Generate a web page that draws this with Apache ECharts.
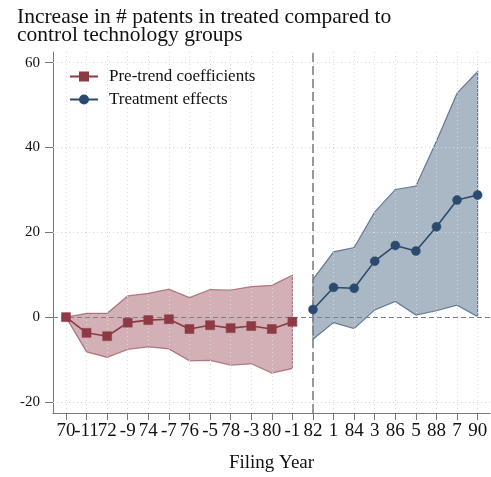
<!DOCTYPE html>
<html><head><meta charset="utf-8">
<script src="https://cdn.jsdelivr.net/npm/echarts@6/dist/echarts.min.js"></script>
<style>html,body{margin:0;padding:0;background:#fff}#c{width:491px;height:477px}</style>
</head><body><div id="c"></div>
<script>
// ---- data ----
const preYears = [1970,1971,1972,1973,1974,1975,1976,1977,1978,1979,1980,1981];
const preCoef  = [0,-3.7,-4.5,-1.3,-0.7,-0.5,-2.8,-1.9,-2.6,-2.1,-2.8,-1.1];
const preLo    = [0,-8.2,-9.5,-7.6,-7.0,-7.5,-10.3,-10.2,-11.3,-11.0,-13.2,-12.1];
const preHi    = [0,0.9,0.9,5.0,5.6,6.6,4.6,6.5,6.4,7.2,7.5,9.9];
const postYears = [1982,1983,1984,1985,1986,1987,1988,1989,1990];
const postCoef  = [1.8,7.0,6.8,13.2,16.9,15.6,21.3,27.6,28.8];
const postLo    = [-5.2,-1.3,-2.7,1.7,3.7,0.5,1.5,2.8,0.1];
const postHi    = [8.9,15.4,16.4,24.8,30.1,30.9,41.5,52.8,57.9];
const xTickValues = [1970,1971,1972,1973,1974,1975,1976,1977,1978,1979,1980,1981,1982,1983,1984,1985,1986,1987,1988,1989,1990];
const xTickLabels = ['70','-11','72','-9','74','-7','76','-5','78','-3','80','-1','82','1','84','3','86','5','88','7','90'];
const yTickValues = [-20,0,20,40,60];
const treatYear = 1982;

const FONT = 'Liberation Serif';
const RED = '#8e3a45', BLUE = '#2a4a6e';
const X_MIN = 1969.37, X_MAX = 1990.6;

function band(name, xs, lo, hi, fill, stroke) {
  return {
    type: 'custom', name: name, silent: true, z: 2,
    data: xs.map((x, i) => [x, lo[i], hi[i]]),
    encode: { x: 0, y: [1, 2] },
    renderItem: function (params, api) {
      if (params.dataIndex !== 0) return null;
      const pts = [];
      for (let i = 0; i < xs.length; i++) pts.push(api.coord([xs[i], hi[i]]));
      for (let i = xs.length - 1; i >= 0; i--) pts.push(api.coord([xs[i], lo[i]]));
      return { type: 'polygon', shape: { points: pts }, style: { fill: fill, stroke: stroke, lineWidth: 1.2 } };
    }
  };
}

const labelOf = v => { const i = xTickValues.indexOf(Math.round(v)); return i >= 0 ? xTickLabels[i] : ''; };
const evenTicks = xTickValues.filter((v, i) => i % 2 === 0);
const oddTicks = xTickValues.filter((v, i) => i % 2 === 1);
const xLabelStyle = { margin: 9, fontFamily: FONT, fontSize: 19, color: '#111',
  showMinLabel: true, showMaxLabel: true, hideOverlap: false, formatter: labelOf };

const gridLines = xTickValues.map(v => ({ xAxis: v }))
  .concat(yTickValues.filter(v => v !== 0).map(v => ({ yAxis: v })));

const chart = echarts.init(document.getElementById('c'), null, { renderer: 'canvas' });
chart.setOption({
  animation: false,
  backgroundColor: '#fff',
  title: {
    text: 'Increase in # patents in treated compared to\ncontrol technology groups',
    left: 12, top: 3,
    textStyle: { fontFamily: FONT, fontSize: 21.5, fontWeight: 'normal', color: '#111', lineHeight: 18 }
  },
  legend: {
    orient: 'vertical', left: 64, top: 63, itemWidth: 28, itemHeight: 10, itemGap: 6,
    data: ['Pre-trend coefficients', 'Treatment effects'],
    textStyle: { fontFamily: FONT, fontSize: 17, color: '#111', padding: [0, 0, 0, 6] }
  },
  grid: { left: 53, right: 1, top: 52, bottom: 64, containLabel: false, outerBoundsMode: 'none' },
  xAxis: [
    {
      type: 'value', min: X_MIN, max: X_MAX, position: 'bottom',
      name: 'Filing Year', nameLocation: 'middle', nameGap: 41,
      nameTextStyle: { fontFamily: FONT, fontSize: 19, color: '#111' },
      axisLine: { show: true, onZero: false, lineStyle: { color: '#777', width: 1 } },
      axisTick: { show: true, length: 7, customValues: xTickValues, lineStyle: { color: '#777' } },
      axisLabel: Object.assign({ customValues: evenTicks }, xLabelStyle),
      splitLine: { show: false }
    },
    {
      type: 'value', min: X_MIN, max: X_MAX, position: 'bottom', offset: 0,
      axisLine: { show: false, onZero: false },
      axisTick: { show: false },
      axisLabel: Object.assign({ customValues: oddTicks }, xLabelStyle),
      splitLine: { show: false }
    }
  ],
  yAxis: {
    type: 'value', min: -22.6, max: 62.5,
    axisLine: { show: true, onZero: false, lineStyle: { color: '#777', width: 1 } },
    axisTick: { show: true, length: 8, customValues: yTickValues, lineStyle: { color: '#777' } },
    axisLabel: { customValues: yTickValues, margin: 13, fontFamily: FONT, fontSize: 15, color: '#111' },
    splitLine: { show: false }
  },
  series: [
    band('preBand', preYears, preLo, preHi, 'rgba(142,58,69,0.4)', 'rgba(142,58,69,0.6)'),
    band('postBand', postYears, postLo, postHi, 'rgba(42,74,110,0.4)', 'rgba(42,74,110,0.65)'),
    {
      type: 'line', name: 'grid', data: [], silent: true, z: 3,
      markLine: {
        silent: true, symbol: 'none', label: { show: false }, z: 3,
        lineStyle: { color: '#d8d8d8', type: [1, 3], width: 1 },
        data: gridLines
      }
    },
    {
      type: 'line', name: 'refs', data: [], silent: true, z: 4,
      markLine: {
        silent: true, symbol: 'none', label: { show: false }, z: 4,
        data: [
          { yAxis: 0, lineStyle: { color: '#808080', type: [5, 3], width: 1.2 } },
          { xAxis: treatYear, lineStyle: { color: '#808080', type: [9, 4], width: 1.6 } }
        ]
      }
    },
    {
      type: 'line', name: 'Pre-trend coefficients', z: 10,
      data: preYears.map((x, i) => [x, preCoef[i]]),
      symbol: 'rect', symbolSize: 9, showSymbol: true,
      lineStyle: { color: RED, width: 1.6 }, itemStyle: { color: RED, borderColor: RED, borderWidth: 0.5, opacity: 1 }
    },
    {
      type: 'line', name: 'Treatment effects', z: 10,
      data: postYears.map((x, i) => [x, postCoef[i]]),
      symbol: 'circle', symbolSize: 9, showSymbol: true,
      lineStyle: { color: BLUE, width: 1.6 }, itemStyle: { color: BLUE, borderColor: BLUE, borderWidth: 0.5, opacity: 1 }
    }
  ]
});
</script></body></html>
